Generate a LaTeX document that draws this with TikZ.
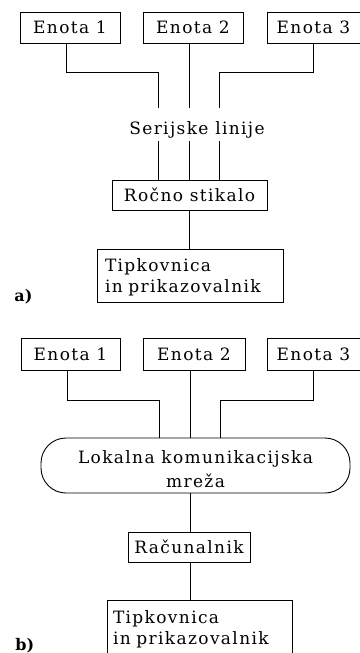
\documentclass[tikz,border=0pt]{standalone}
\usepackage{fontspec}
\newfontfamily\plotfont[LetterSpace=8]{DejaVu Serif}
\newfontfamily\tagfont{DejaVu Serif}
\begin{document}
\begin{tikzpicture}[x=1pt,y=-1pt,
  line width=0.9pt,
  txt/.style={font=\plotfont\fontsize{17}{21}\selectfont},
  box/.style={txt,draw,inner sep=0pt,minimum height=31pt},
  twoline/.style={txt,draw,align=left,inner ysep=0pt},
  wire/.style={line width=0.9pt},
  tag/.style={font=\tagfont\bfseries\fontsize{16}{16}\selectfont,anchor=base west,inner sep=0pt}]
\useasboundingbox (0,0) rectangle (359,653);

% ---------- a) serial lines through a manual switch ----------
\node[box,minimum width=100pt] (e1a) at (70,27.5) {Enota 1};
\node[box,minimum width=100pt] (e2a) at (193,27.5) {Enota 2};
\node[box,minimum width=93pt]  (e3a) at (313.5,27.5) {Enota 3};

\coordinate (ka1) at (158,72);
\coordinate (ka3) at (219,72);
\coordinate (sa1) at (158,108);
\coordinate (sa2) at (189,108);
\coordinate (sa3) at (219,108);
\coordinate (ta1) at (158,141);
\coordinate (ta2) at (189,141);
\coordinate (ta3) at (219,141);

\node[txt,anchor=base,inner sep=0pt] (ser) at (197,134.5) {Serijske linije};

\node[box,minimum width=155pt,minimum height=30pt] (sw) at (189.5,195) {Ročno stikalo};
\node[twoline,text width=170pt,inner xsep=8pt,minimum height=53pt] (kba) at (190,275.5)
  {\rule{0pt}{17.5pt}Tipkovnica\\in prikazovalnik};

\draw[wire] ([xshift=-4pt]e1a.south) |- (ka1) -- (sa1);
\draw[wire] ([xshift=-4pt]e2a.south) -- (sa2);
\draw[wire] ([xshift=-0.5pt]e3a.south) |- (ka3) -- (sa3);
\draw[wire] (ta1) -- (ta1 |- sw.north);
\draw[wire] (ta2) -- (ta2 |- sw.north);
\draw[wire] (ta3) -- (ta3 |- sw.north);
\draw[wire] ([xshift=-0.5pt]sw.south) -- ([xshift=-0.5pt]sw.south |- kba.north);

\node[tag] (la) at (14,301) {a)};

% ---------- b) units on a local area network ----------
\node[box,minimum width=99pt,minimum height=32pt]  (e1b) at (70.5,354) {Enota 1};
\node[box,minimum width=102pt,minimum height=32pt] (e2b) at (194,354) {Enota 2};
\node[box,minimum width=93pt,minimum height=32pt]  (e3b) at (313.5,354) {Enota 3};

\node[txt,font=\plotfont\fontsize{17}{24}\selectfont,draw,align=center,rounded corners=25pt,
  minimum width=309pt,minimum height=55pt,inner sep=0pt] (lan) at (195.5,465.5)
  {\rule{0pt}{20.4pt}Lokalna komunikacijska\\mreža};

\coordinate (kb1) at (159,400);
\coordinate (kb3) at (220,400);

\draw[wire] ([xshift=-3.5pt]e1b.south) |- (kb1) -- (kb1 |- lan.north);
\draw[wire] ([xshift=-4pt]e2b.south) -- ([xshift=-4pt]e2b.south |- lan.north);
\draw[wire] ([xshift=-0.5pt]e3b.south) |- (kb3) -- (kb3 |- lan.north);

\node[box,minimum width=122pt,minimum height=30pt] (pc) at (189,547) {Računalnik};
\node[twoline,text width=173pt,inner xsep=6pt,minimum height=59pt] (kbb) at (199.5,629.5)
  {Tipkovnica\\in prikazovalnik};

\draw[wire] ([xshift=-5.5pt]lan.south) -- ([xshift=-5.5pt]lan.south |- pc.north);
\draw[wire] ([xshift=1pt]pc.south) -- ([xshift=1pt]pc.south |- kbb.north);

\node[tag] (lb) at (15,650) {b)};
\end{tikzpicture}
\end{document}
